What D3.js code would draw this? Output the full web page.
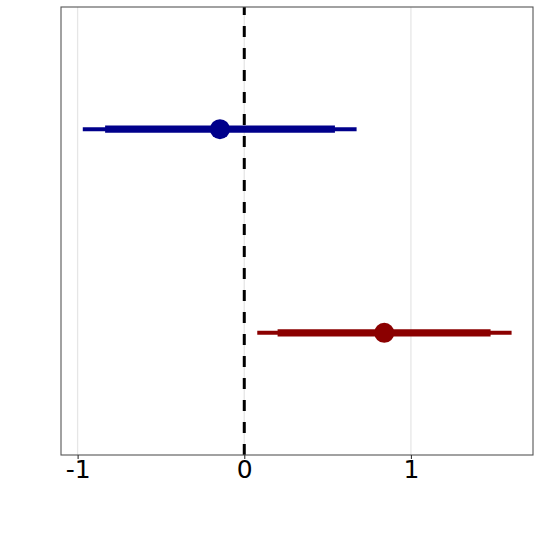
<!DOCTYPE html>
<html>
<head>
<meta charset="utf-8">
<script src="https://cdn.jsdelivr.net/npm/d3@7"></script>
<style>
  body { margin: 0; background: #fff; }
</style>
</head>
<body>
<div id="chart"></div>
<script>
// data
const groups = ["B", "A"];              // B is drawn on top
const estimate = [-0.146, 0.840];
const innerLow = [-0.835, 0.200];
const innerHigh = [0.544, 1.478];
const outerLow = [-0.969, 0.078];
const outerHigh = [0.674, 1.604];
const colors = ["#00008B", "#8B0000"];
const xTicks = [-1, 0, 1];

const width = 540, height = 540;
const margin = { top: 7, right: 7, bottom: 85, left: 61 };
const innerW = width - margin.left - margin.right;
const innerH = height - margin.top - margin.bottom;

const svg = d3.select("#chart")
  .append("svg")
  .attr("width", width)
  .attr("height", height);

const g = svg.append("g")
  .attr("transform", "translate(" + margin.left + "," + margin.top + ")");

const x = d3.scaleLinear().domain([-1.0997, 1.7325]).range([0, innerW]);
// discrete y like ggplot: levels at 1 and 2 with 0.6 expansion
const y = d3.scaleLinear().domain([2.6, 0.4]).range([0, innerH]);
const yPos = (i) => y(groups.length - i);

// grid
g.selectAll(".grid")
  .data(xTicks)
  .enter()
  .append("line")
  .attr("x1", (d) => x(d))
  .attr("x2", (d) => x(d))
  .attr("y1", 0)
  .attr("y2", innerH)
  .attr("stroke", "#e6e6e6")
  .attr("stroke-width", 1.3);

// reference line at zero
g.append("line")
  .attr("x1", x(0))
  .attr("x2", x(0))
  .attr("y1", innerH)
  .attr("y2", 0)
  .attr("stroke", "#000")
  .attr("stroke-width", 3)
  .attr("stroke-dasharray", "11,11");

const data = groups.map((name, i) => ({
  name: name,
  est: estimate[i],
  lo: innerLow[i],
  hi: innerHigh[i],
  lo2: outerLow[i],
  hi2: outerHigh[i],
  color: colors[i],
  pos: yPos(i),
}));

// outer interval
g.selectAll(".outer")
  .data(data)
  .enter()
  .append("line")
  .attr("x1", (d) => x(d.lo2))
  .attr("x2", (d) => x(d.hi2))
  .attr("y1", (d) => d.pos)
  .attr("y2", (d) => d.pos)
  .attr("stroke", (d) => d.color)
  .attr("stroke-width", 4);

// inner interval
g.selectAll(".inner")
  .data(data)
  .enter()
  .append("line")
  .attr("x1", (d) => x(d.lo))
  .attr("x2", (d) => x(d.hi))
  .attr("y1", (d) => d.pos)
  .attr("y2", (d) => d.pos)
  .attr("stroke", (d) => d.color)
  .attr("stroke-width", 7.3);

// point estimate
g.selectAll(".pt")
  .data(data)
  .enter()
  .append("circle")
  .attr("cx", (d) => x(d.est))
  .attr("cy", (d) => d.pos)
  .attr("r", 10)
  .attr("fill", (d) => d.color);

// panel border
g.append("rect")
  .attr("x", 0)
  .attr("y", 0)
  .attr("width", innerW)
  .attr("height", innerH)
  .attr("fill", "none")
  .attr("stroke", "#555")
  .attr("stroke-width", 1.1);

// x axis
const xAxis = g.append("g")
  .attr("transform", "translate(0," + innerH + ")")
  .call(d3.axisBottom(x).tickValues(xTicks).tickSize(4).tickPadding(1).tickFormat(d3.format("d")));
xAxis.select(".domain").remove();
xAxis.selectAll(".tick line").attr("stroke", "#333").attr("stroke-width", 1.1);
xAxis.selectAll(".tick text")
  .attr("fill", "#000")
  .style("font-family", "'DejaVu Sans', sans-serif")
  .style("font-size", "25px")
  .text((d) => (d < 0 ? "-" : "") + Math.abs(d));
</script>
</body>
</html>
